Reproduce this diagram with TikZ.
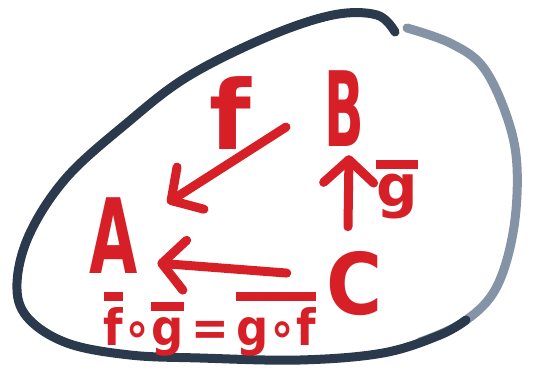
\documentclass[tikz,border=0pt]{standalone}
\usepackage{fontspec}
\usepackage{graphicx}
\setmainfont{DejaVu Sans}
\usetikzlibrary{arrows.meta,calc}
\definecolor{marker}{HTML}{D61F26}
\definecolor{ink}{HTML}{2A394B}
\definecolor{inklight}{HTML}{8494A6}
\newcommand\mkbar[1]{\vbox{\hrule height 9pt\kern 6pt\hbox{#1}}}
\begin{document}
\begin{tikzpicture}[x=1pt,y=-1pt,
  obj/.style={text=marker, inner sep=0pt, anchor=base},
  arr/.style={draw=marker, line width=9pt, line cap=round,
    -{Straight Barb[length=23pt,width=50pt,round]}},
  outline/.style={line width=9pt, line cap=round, line join=round}]
\useasboundingbox (0,0) rectangle (540,379);
% outline of the category
\draw[outline, draw=inklight] plot[smooth, tension=0.6] coordinates {(420,342) (462,323) (495,290) (513,233) (517,167) (507,117) (483,67) (450,43) (407,28)};
\draw[outline, draw=ink] plot[smooth, tension=0.6] coordinates {(395,32) (377,15) (333,15) (267,37) (187,77) (127,123) (67,177) (30,233) (17,283) (27,317) (67,343) (130,355) (200,358) (300,360) (383,353) (440,335) (466,320)};
% objects
\node[obj, font=\bfseries\fontsize{104}{104}\selectfont] (A) at (114,273) {\scalebox{0.6}[1]{A}};
\node[obj, font=\bfseries\fontsize{104}{104}\selectfont] (B) at (344,147) {\scalebox{0.5}[1]{B}};
\node[obj, font=\bfseries\fontsize{85}{85}\selectfont] (C) at (355,314) {\scalebox{0.9}[1]{C}};
% labels
\node[obj, font=\bfseries\fontsize{96}{96}\selectfont] (f) at (230,150) {f};
\node[obj, font=\bfseries\fontsize{58}{58}\selectfont] (gbar) at (397,207) {\mkbar{g}};
\node[obj, font=\bfseries\fontsize{50}{50}\selectfont] (eq) at (210,345) {\scalebox{0.9}[1]{\mkbar{f}∘\mkbar{g}\,=\,\mkbar{g∘f}}};
% arrows
\draw[arr] ($(B.west)+(-38,18)$) -- ($(A.north east)+(29,6)$);
\draw[arr] ($(C.north)+(-7,-24)$) -- ($(B.south)+(5,8)$);
\draw[arr] ($(C.west)+(-40,-10)$) -- ($(A.east)+(19,28)$);
\end{tikzpicture}
\end{document}
